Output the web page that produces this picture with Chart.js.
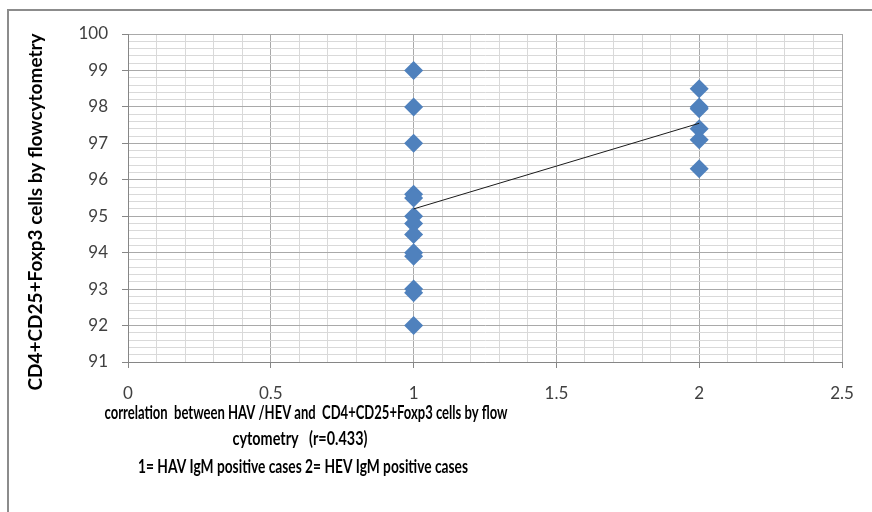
<!DOCTYPE html>
<html>
<head>
<meta charset="utf-8">
<script src="https://cdn.jsdelivr.net/npm/chart.js@4.4.1/dist/chart.umd.min.js"></script>
<style>
  html, body { margin: 0; padding: 0; background: #ffffff; }
  #wrap { position: relative; width: 872px; height: 512px; }
</style>
</head>
<body>
<div id="wrap"><canvas id="c" width="872" height="512"></canvas></div>
<script>
// Group codes: 1 = HAV IgM positive, 2 = HEV IgM positive
const havCode = 1;
const hevCode = 2;

// CD4+CD25+Foxp3 cell levels (flow cytometry) per case
const havLevels = [99, 98, 97, 95.6, 95.5, 95, 94.8, 94.5, 94, 93.9, 93, 92.9, 92];
const hevLevels = [98.5, 98, 97.95, 97.4, 97.1, 96.3];

// Linear trend line between the two groups
const trendCodes = [1, 2];
const trendLevels = [95.2, 97.55];

// Axis ranges and tick spacing
const xRange = [0, 2.5];
const xMinorStep = 0.1;
const xLabelStep = 0.5;
const yRange = [91, 100];
const yMinorStep = 0.2;
const yLabelStep = 1;

const yTitle = 'CD4+CD25+Foxp3 cells by flowcytometry';
const xTitleLines = [
  'correlation  between HAV /HEV and  CD4+CD25+Foxp3 cells by flow',
  'cytometry   (r=0.433)',
  '1= HAV IgM positive cases 2= HEV IgM positive cases'
];

const onStep = (v, step) => Math.abs(v / step - Math.round(v / step)) < 1e-6;
const fmt = v => String(Math.round(v * 10) / 10);

const MAJOR_GRID = '#a9a9a9';
const MINOR_GRID = '#d9d9d9';
const AXIS_LINE = '#868686';
const TICK_TEXT = '#404040';

const points = havLevels.map(v => ({ x: havCode, y: v }))
  .concat(hevLevels.map(v => ({ x: hevCode, y: v })));
const trend = trendCodes.map((c, i) => ({ x: c, y: trendLevels[i] }));

// Outer frame plus the axis captions
const captions = {
  id: 'captions',
  afterDraw(chart) {
    const ctx = chart.ctx;
    ctx.save();
    ctx.strokeStyle = '#8c8c8c';
    ctx.lineWidth = 2;
    ctx.beginPath();
    ctx.moveTo(8, 600);
    ctx.lineTo(8, 10);
    ctx.lineTo(900, 10);
    ctx.stroke();

    ctx.fillStyle = '#000000';
    ctx.textAlign = 'center';
    ctx.textBaseline = 'middle';

    ctx.save();
    ctx.translate(36, 212);
    ctx.rotate(-Math.PI / 2);
    ctx.font = 'bold 19px Lato';
    ctx.fillText(yTitle, 0, 0, 361);
    ctx.restore();

    ctx.font = 'bold 18px Lato';
    const xs = [306, 300, 303];
    const ys = [413, 439, 467];
    const ws = [403, 135, 330];
    xTitleLines.forEach((t, i) => ctx.fillText(t, xs[i], ys[i], ws[i]));
    ctx.restore();
  }
};

new Chart(document.getElementById('c'), {
  type: 'scatter',
  data: {
    datasets: [
      {
        label: 'trend',
        data: trend,
        type: 'line',
        showLine: true,
        borderColor: '#1a1a1a',
        borderWidth: 1,
        pointRadius: 0,
        fill: false,
        order: 0
      },
      {
        label: 'cases',
        data: points,
        pointStyle: 'rectRot',
        pointRadius: 9.5,
        pointHoverRadius: 9.5,
        backgroundColor: '#4f81bd',
        borderColor: '#4f81bd',
        borderWidth: 0,
        order: 1
      }
    ]
  },
  options: {
    responsive: false,
    animation: false,
    devicePixelRatio: 1,
    layout: { padding: { top: 34, right: 30, bottom: 0, left: 0 } },
    plugins: { legend: { display: false }, tooltip: { enabled: false } },
    scales: {
      x: {
        type: 'linear',
        min: xRange[0],
        max: xRange[1],
        afterFit: s => { s.height = 150; },
        ticks: {
          stepSize: xMinorStep,
          autoSkip: false,
          maxRotation: 0,
          minRotation: 0,
          padding: 15,
          color: TICK_TEXT,
          font: { family: 'Lato', size: 17 },
          callback: v => onStep(v, xLabelStep) ? fmt(v) : ''
        },
        grid: {
          color: c => onStep(c.tick.value, xLabelStep) ? MAJOR_GRID : MINOR_GRID,
          tickColor: c => onStep(c.tick.value, xLabelStep) ? AXIS_LINE : 'rgba(0,0,0,0)',
          tickLength: 6,
          lineWidth: 1
        },
        border: { color: AXIS_LINE, width: 1 }
      },
      y: {
        type: 'linear',
        min: yRange[0],
        max: yRange[1],
        afterFit: s => { s.width = 128; },
        ticks: {
          stepSize: yMinorStep,
          autoSkip: false,
          padding: 14,
          color: TICK_TEXT,
          font: { family: 'Lato', size: 17 },
          callback: v => onStep(v, yLabelStep) ? fmt(v) : ''
        },
        grid: {
          color: c => onStep(c.tick.value, yLabelStep) ? MAJOR_GRID : MINOR_GRID,
          tickColor: c => onStep(c.tick.value, yLabelStep) ? AXIS_LINE : 'rgba(0,0,0,0)',
          tickLength: 6,
          lineWidth: 1
        },
        border: { color: AXIS_LINE, width: 1 }
      }
    }
  },
  plugins: [captions]
});
</script>
</body>
</html>
